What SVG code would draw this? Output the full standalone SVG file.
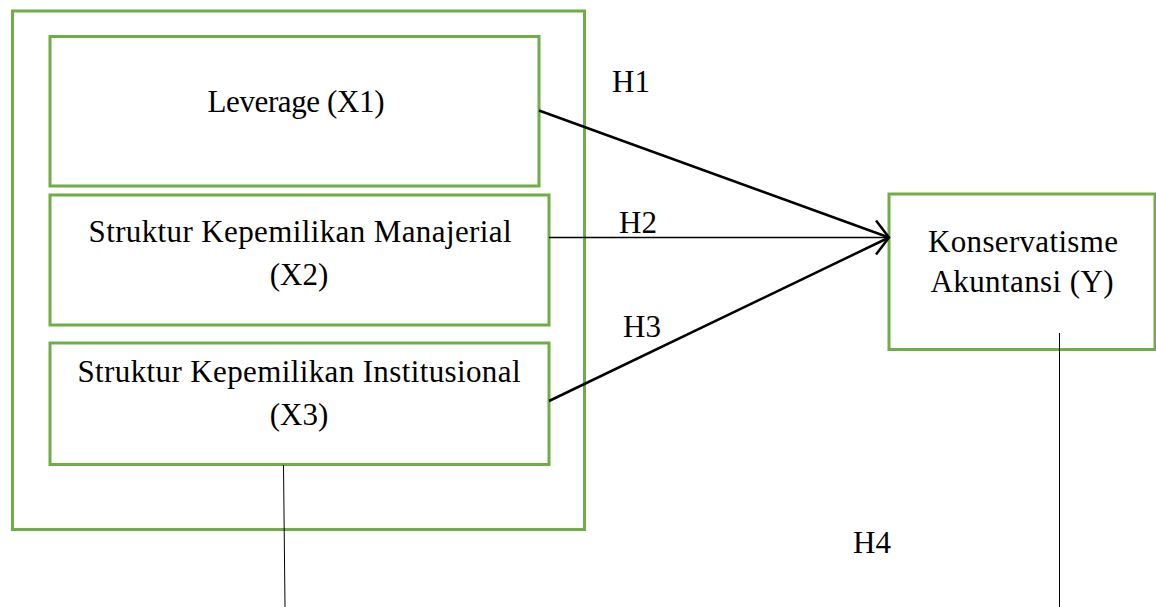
<svg xmlns="http://www.w3.org/2000/svg" width="1156" height="607" viewBox="0 0 1156 607">
  <style>
    .box { fill: none; stroke: #70AD47; stroke-width: 3; }
    .lbl { font-family: "Liberation Serif", "Times New Roman", serif; font-size: 31px; fill: #000; text-anchor: middle; }
    .h { font-family: "Liberation Serif", "Times New Roman", serif; font-size: 31px; fill: #000; }
    .thick { stroke: #000; stroke-width: 2.5; fill: none; }
    .thin { stroke: #000; stroke-width: 1.5; fill: none; }
    .hair { stroke: #000; stroke-width: 1; fill: none; }
  </style>
  <defs>
    <marker id="arr" markerUnits="userSpaceOnUse" markerWidth="40" markerHeight="40" viewBox="-20 -20 40 40" refX="0" refY="0" orient="auto" overflow="visible">
      <path d="M-13,-17 L0,0 L-13,17" fill="none" stroke="#000" stroke-width="2.5"/>
    </marker>
  </defs>
  <rect width="1156" height="607" fill="#fff"/>

  <g id="group-x">
    <rect class="box" x="12.5" y="11" width="572" height="518.5"/>
  </g>
  <g id="node-x1">
    <rect class="box" x="50" y="36.5" width="489" height="149.5"/>
    <text class="lbl" x="296" y="112" textLength="177" lengthAdjust="spacing">Leverage (X1)</text>
  </g>
  <g id="node-x2">
    <rect class="box" x="50" y="195" width="499" height="130"/>
    <text class="lbl" x="300" y="242" textLength="423" lengthAdjust="spacing">Struktur Kepemilikan Manajerial</text>
    <text class="lbl" x="299" y="285">(X2)</text>
  </g>
  <g id="node-x3">
    <rect class="box" x="50" y="343" width="499" height="121.5"/>
    <text class="lbl" x="299" y="382" textLength="443" lengthAdjust="spacing">Struktur Kepemilikan Institusional</text>
    <text class="lbl" x="299" y="425">(X3)</text>
  </g>
  <g id="node-y">
    <rect class="box" x="889" y="194" width="266" height="155.5"/>
    <text class="lbl" x="1023" y="252" textLength="190" lengthAdjust="spacing">Konservatisme</text>
    <text class="lbl" x="1022" y="292" textLength="183" lengthAdjust="spacing">Akuntansi (Y)</text>
  </g>

  <g id="connectors">
    <line class="thick" x1="539" y1="110.5" x2="889" y2="237.5"/>
    <line class="thin" x1="549" y1="237.5" x2="889" y2="237.5" marker-end="url(#arr)"/>
    <line class="thick" x1="549" y1="401" x2="889" y2="237.5"/>
    <line class="hair" x1="283.5" y1="465" x2="285" y2="607"/>
    <line class="hair" x1="1059.5" y1="333" x2="1059.5" y2="607"/>
    <text class="h" x="612" y="92">H1</text>
    <text class="h" x="619" y="233">H2</text>
    <text class="h" x="623" y="337">H3</text>
    <text class="h" x="853" y="553">H4</text>
  </g>
</svg>
